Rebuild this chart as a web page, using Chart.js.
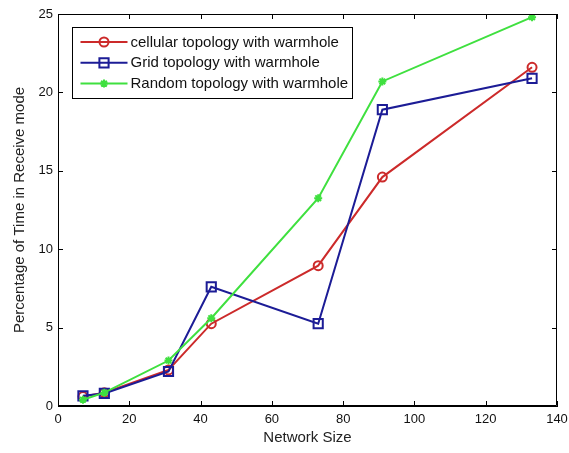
<!DOCTYPE html>
<html>
<head>
<meta charset="utf-8">
<script src="https://cdn.jsdelivr.net/npm/chart.js@4.4.1/dist/chart.umd.min.js"></script>
<style>
  html, body { margin: 0; padding: 0; background: #fff; }
  #wrap { width: 569px; height: 453px; }
</style>
</head>
<body>
<div id="wrap"><canvas id="c" width="569" height="453"></canvas></div>
<script>
// Network sizes and percentage of time spent in receive mode
const networkSize = [7, 13, 31, 43, 73, 91, 133];
const cellular = [0.6, 0.85, 2.3, 5.25, 8.95, 14.6, 21.6];
const grid = [0.65, 0.8, 2.2, 7.6, 5.25, 18.9, 20.9];
const random = [0.4, 0.85, 2.9, 5.6, 13.25, 20.7, 24.8];
const seriesNames = [
  'cellular topology with warmhole',
  'Grid topology with warmhole',
  'Random topology with warmhole'
];
const xTicks = [0, 20, 40, 60, 80, 100, 120, 140];
const yTicks = [0, 5, 10, 15, 20, 25];

const FONT = '"Liberation Sans", Arial, sans-serif';
const toXY = vals => vals.map((v, i) => ({ x: networkSize[i], y: v }));

// Inward tick marks on all four sides plus the top/right box edges
const boxTicks = {
  id: 'boxTicks',
  afterDraw(chart) {
    const { ctx, chartArea: a, scales: { x, y } } = chart;
    ctx.save();
    ctx.strokeStyle = '#000';
    ctx.lineWidth = 1;
    ctx.beginPath();
    ctx.rect(a.left + 0.5, a.top + 0.5, a.right - a.left - 1, a.bottom - a.top - 1);
    ctx.stroke();
    const L = 5;
    ctx.beginPath();
    xTicks.forEach(t => {
      const px = Math.round(x.getPixelForValue(t)) + 0.5;
      ctx.moveTo(px, a.bottom); ctx.lineTo(px, a.bottom - L);
      ctx.moveTo(px, a.top); ctx.lineTo(px, a.top + L);
    });
    yTicks.forEach(t => {
      const py = Math.round(y.getPixelForValue(t)) + 0.5;
      ctx.moveTo(a.left, py); ctx.lineTo(a.left + L, py);
      ctx.moveTo(a.right, py); ctx.lineTo(a.right - L, py);
    });
    ctx.stroke();
    ctx.restore();
  }
};

// Boxed legend in the upper-left corner of the plot
const boxLegend = {
  id: 'boxLegend',
  afterDraw(chart) {
    const { ctx, chartArea: a } = chart;
    const bx = a.left + 14.5, by = a.top + 13.5, bw = 280, bh = 71;
    ctx.save();
    ctx.fillStyle = '#fff';
    ctx.fillRect(bx, by, bw, bh);
    ctx.strokeStyle = '#000';
    ctx.lineWidth = 1;
    ctx.strokeRect(bx, by, bw, bh);
    ctx.font = '15px ' + FONT;
    ctx.textBaseline = 'middle';
    chart.data.datasets.forEach((ds, row) => {
      const cy = by + 14.5 + row * 20.8;
      const x0 = bx + 8, x1 = bx + 55, xm = (x0 + x1) / 2;
      ctx.strokeStyle = ds.borderColor;
      ctx.lineWidth = 2;
      ctx.beginPath(); ctx.moveTo(x0, cy); ctx.lineTo(x1, cy); ctx.stroke();
      ctx.fillStyle = ds.pointBackgroundColor;
      ctx.strokeStyle = ds.pointBorderColor;
      ctx.lineWidth = ds.pointBorderWidth;
      Chart.helpers.drawPoint(ctx, {
        pointStyle: ds.pointStyle,
        radius: ds.pointRadius,
        borderWidth: ds.pointBorderWidth,
        rotation: 0
      }, xm, cy);
      ctx.fillStyle = '#111';
      ctx.fillText(ds.label, x1 + 3, cy + 0.5);
    });
    ctx.restore();
  }
};

const mk = (label, data, color, style, radius, fill, order) => ({
  label, data: toXY(data),
  borderColor: color, backgroundColor: fill,
  pointBorderColor: color, pointBackgroundColor: fill,
  borderWidth: 2, pointStyle: style, pointRadius: radius,
  pointBorderWidth: 2, pointHoverRadius: radius,
  tension: 0, order
});

new Chart(document.getElementById('c'), {
  type: 'line',
  data: {
    datasets: [
      mk(seriesNames[0], cellular, '#cc2a2a', 'circle', 4.5, 'rgba(0,0,0,0)', 3),
      mk(seriesNames[1], grid, '#1c1c96', 'rect', 6.5, 'rgba(0,0,0,0)', 2),
      mk(seriesNames[2], random, '#3fe03f', 'star', 4, '#3fe03f', 1)
    ]
  },
  options: {
    responsive: false,
    animation: false,
    layout: { padding: { top: 14, right: 12, left: 0, bottom: 0 } },
    plugins: { legend: { display: false }, tooltip: { enabled: false } },
    scales: {
      x: {
        type: 'linear', min: 0, max: 140,
        afterBuildTicks: s => { s.ticks = xTicks.map(v => ({ value: v })); },
        afterFit: s => { s.height = 47; s.paddingLeft = 0; s.paddingRight = 0; },
        grid: { display: false, drawTicks: false },
        border: { display: true, color: '#000', width: 1 },
        ticks: { color: '#111', font: { family: FONT, size: 13 }, padding: 6, maxRotation: 0 },
        title: { display: true, text: 'Network Size', color: '#222',
                 font: { family: FONT, size: 15 }, padding: { top: 0, bottom: 6 } }
      },
      y: {
        min: 0, max: 25,
        afterBuildTicks: s => { s.ticks = yTicks.map(v => ({ value: v })); },
        afterFit: s => { s.width = 58; s.paddingTop = 0; s.paddingBottom = 0; },
        grid: { display: false, drawTicks: false },
        border: { display: true, color: '#000', width: 1 },
        ticks: { color: '#111', font: { family: FONT, size: 13 }, padding: 5 },
        title: { display: true, text: 'Percentage of Time in Receive mode', color: '#222',
                 font: { family: FONT, size: 15 }, padding: { top: 11, bottom: 0 } }
      }
    }
  },
  plugins: [boxTicks, boxLegend]
});
</script>
</body>
</html>
